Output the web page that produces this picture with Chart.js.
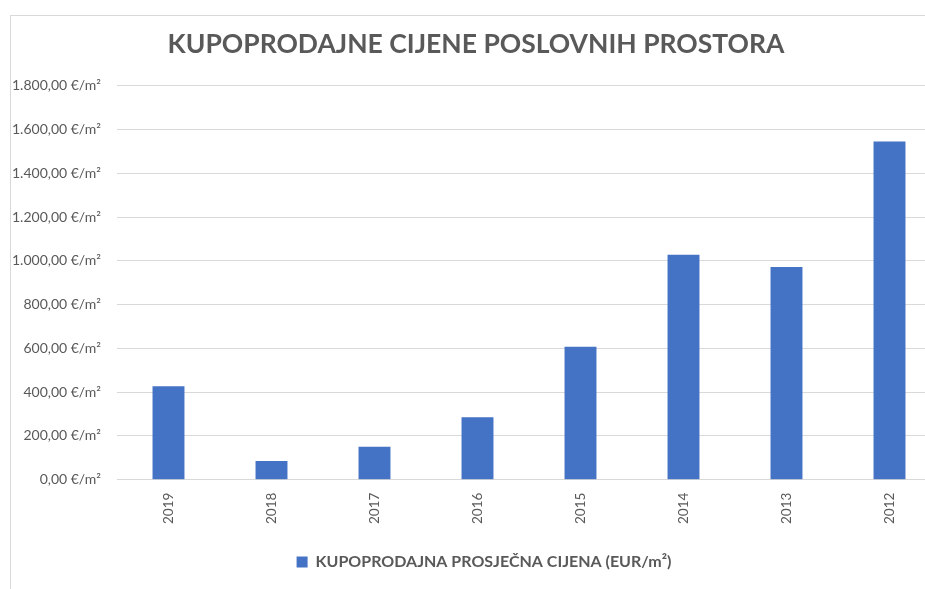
<!DOCTYPE html>
<html>
<head>
<meta charset="utf-8">
<script src="https://cdn.jsdelivr.net/npm/chart.js@4.4.1/dist/chart.umd.min.js"></script>
<style>
  html, body { margin: 0; padding: 0; background: #fff; overflow: hidden; }
  #frame {
    position: absolute; left: 10px; top: 15px; width: 940px; height: 580px;
    border-top: 1px solid #d9d9d9; border-left: 1px solid #d9d9d9;
  }
  #wrap { position: absolute; left: 0; top: 0; width: 930px; height: 573px; }
</style>
</head>
<body>
<div id="frame"><div id="wrap"><canvas id="myChart"></canvas></div></div>
<script>
// data
var years = ['2019', '2018', '2017', '2016', '2015', '2014', '2013', '2012'];
var prices = [427, 85, 151, 285, 607, 1028, 972, 1546];
var seriesName = 'KUPOPRODAJNA PROSJEČNA CIJENA (EUR/m²)';
var chartTitle = 'KUPOPRODAJNE CIJENE POSLOVNIH PROSTORA';

var grey = '#595959';
var fontFam = 'Lato, "Open Sans", sans-serif';

// 1800 -> "1.800,00 €/m²"
function eur(v) {
    var parts = Number(v).toFixed(2).split('.');
    parts[0] = parts[0].replace(/\B(?=(\d{3})+(?!\d))/g, '.');
    return parts[0] + ',' + parts[1] + ' €/m²';
}

// nudge the legend a bit to the right, like in the excel original
var legendShift = {
    id: 'legendShift',
    afterLayout: function (c) {
        if (c.legend) {
            c.legend.left += 8;
            c.legend.right += 8;
        }
    }
};

var ctx = document.getElementById('myChart').getContext('2d');
var chart = new Chart(ctx, {
    type: 'bar',
    data: {
        labels: years,
        datasets: [{
            label: seriesName,
            data: prices,
            backgroundColor: '#4472C4',
            borderColor: '#4472C4',
            borderWidth: 0,
            barPercentage: 0.31,
            categoryPercentage: 1
        }]
    },
    plugins: [legendShift],
    options: {
        responsive: true,
        maintainAspectRatio: false,
        animation: false,
        layout: { padding: { top: 0, right: 0, bottom: 9, left: 0 } },
        plugins: {
            title: {
                display: true,
                text: chartTitle,
                color: grey,
                font: { family: fontFam, size: 26.5, weight: 'bold' },
                padding: { top: 13, bottom: 25 }
            },
            legend: {
                position: 'bottom',
                labels: {
                    color: grey,
                    font: { family: fontFam, size: 16, weight: 'bold' },
                    boxWidth: 11,
                    boxHeight: 11,
                    padding: 10
                }
            },
            tooltip: { enabled: false }
        },
        scales: {
            x: {
                afterFit: function (scale) { scale.height = scale.height + 7; },
                grid: { display: false, drawTicks: false },
                border: { display: false },
                ticks: {
                    color: grey,
                    font: { family: fontFam, size: 13.5 },
                    minRotation: 90,
                    maxRotation: 90,
                    padding: 13
                }
            },
            y: {
                min: 0,
                max: 1800,
                afterFit: function (scale) { scale.width = 106; },
                grid: { color: '#d9d9d9', drawTicks: false },
                border: { display: false },
                ticks: {
                    stepSize: 200,
                    color: grey,
                    font: { family: fontFam, size: 14 },
                    padding: 16,
                    callback: function (v) { return eur(v); }
                }
            }
        }
    }
});
</script>
</body>
</html>
